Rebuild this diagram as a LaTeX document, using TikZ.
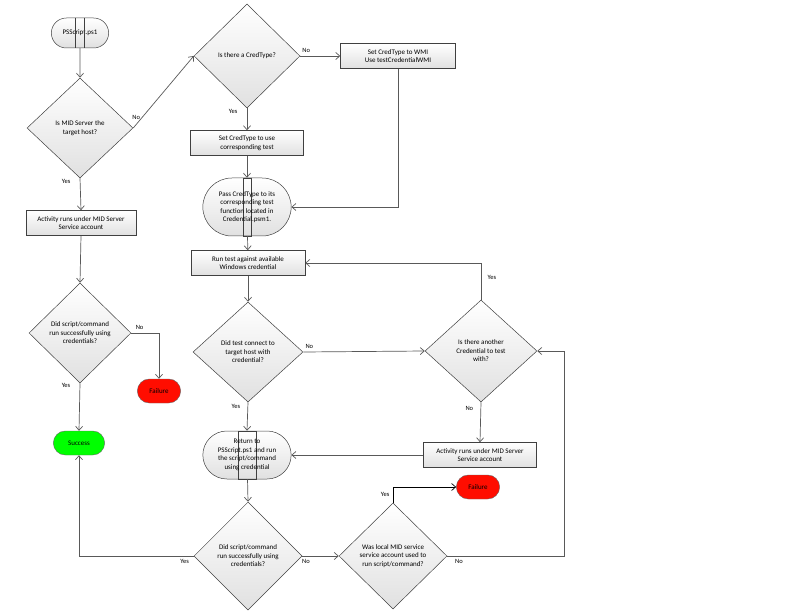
\documentclass[tikz,border=0pt]{standalone}
\usepackage{fontspec}
\setmainfont{Carlito}
\usetikzlibrary{arrows.meta,shapes.geometric,shapes.misc}
\begin{document}
\begin{tikzpicture}[x=1pt,y=-1pt,
  every node/.style={font=\fontsize{7}{8.5}\selectfont,align=center},
  base/.style={draw=black!75,line width=0.5pt,top color=white,bottom color=black!12},
  box/.style={base,rectangle,minimum height=25pt,inner sep=1pt},
  dia/.style={base,diamond,aspect=1,inner sep=0pt},
  term/.style={base,rounded rectangle,minimum height=24pt},
  red/.style={draw=black!60,fill=red!90!orange,rounded rectangle,minimum width=50pt,minimum height=24pt},
  green/.style={draw=black!60,fill=green,rounded rectangle,minimum width=58pt,minimum height=24pt},
  arr/.style={draw=black!65,line width=0.7pt,-{Straight Barb[length=4pt,width=7pt]}},
  lab/.style={font=\fontsize{6.5}{7}\selectfont}]
\useasboundingbox (0,0) rectangle (792,612);
\newcommand{\dia}[5]{\node[dia,minimum width=#3pt,minimum height=#4pt] at #1 (#2) {}; \node at #1 {#5};}
% nodes
\node[term,minimum width=64pt,minimum height=30pt] (ps) at (80,33) {PSScript.ps1};
\draw[black!75] ([xshift=9pt]ps.north west) -- ([xshift=9pt]ps.south west) ([xshift=-9pt]ps.north east) -- ([xshift=-9pt]ps.south east);
\node[dia,minimum width=106pt,minimum height=100pt] (d1) at (80,128) {};
\node at (80,128) {Is MID Server the\\target host?};
\node[box,minimum width=110pt] (a1) at (81,223) {Activity runs under MID Server\\Service account};
\node[dia,minimum width=102pt,minimum height=100pt] (d3) at (80,333) {};
\node at (80,333) {Did script/command\\run successfully using\\credentials?};
\node[red] (f1) at (159,391) {Failure};
\node[green] (s) at (79,443) {Success};
\node[dia,minimum width=106pt,minimum height=104pt] (d2) at (247,56) {};
\node at (247,56) {Is there a CredType?};
\node[box,minimum width=115pt] (wmi) at (398,56) {Set CredType to WMI\\Use testCredentialWMI};
\node[box,minimum width=113pt] (sc) at (247,143) {Set CredType to use\\corresponding test};
\node[term,minimum width=95pt,minimum height=58pt] (pass) at (247,207) {};
\draw[black!75] ([xshift=11pt]pass.north west) rectangle ([xshift=-11pt]pass.south east);
\node at (247,207) {Pass CredType to its\\corresponding test\\function located in\\Credential.psm1.};
\node[box,minimum width=114pt] (run) at (248,263) {Run test against available\\Windows credential};
\node[dia,minimum width=110pt,minimum height=100pt] (dt) at (248,352) {};
\node at (248,352) {Did test connect to\\target host with\\credential?};
\node[dia,minimum width=112pt,minimum height=102pt] (da) at (481,351) {};
\node at (481,351) {Is there another\\Credential to test\\with?};
\node[box,minimum width=113pt] (a2) at (480,455) {Activity runs under MID Server\\Service account};
\node[term,minimum width=95pt,minimum height=48pt] (ret) at (247,455) {};
\draw[black!75] ([xshift=11pt]ret.north west) rectangle ([xshift=-11pt]ret.south east);
\node at (247,455) {Return to\\PSScript.ps1 and run\\the script/command\\using credential};
\node[dia,minimum width=108pt,minimum height=108pt] (db) at (248,556) {};
\node at (248,556) {Did script/command\\run successfully using\\credentials?};
\node[dia,minimum width=108pt,minimum height=106pt] (dw) at (393,556) {};
\node at (393,556) {Was local MID service\\service account used to\\run script/command?};
\node[red] (f2) at (478,487) {Failure};
% connectors
\draw[arr] (ps) -- (d1.north);
\draw[arr] (d1.east) -- node[lab,pos=0.05,above=1pt]{No} (d2.west);
\draw[arr] (d1.south) -- node[lab,pos=0.1,left=6pt]{Yes} (a1.north);
\draw[arr] (a1.south) -- (d3.north);
\draw[arr] (d3.east) -- node[lab,pos=0.3,above]{No} (f1.north |- d3.east) -- (f1.north);
\draw[arr] (d3.south) -- node[lab,pos=0.05,left=6pt]{Yes} (s.north);
\draw[arr] (d2.east) -- node[lab,pos=0.15,above]{No} (wmi.west);
\draw[arr] (d2.south) -- node[lab,pos=0.15,left=6pt]{Yes} (sc.north);
\draw[arr] (wmi.south) |- (pass.east);
\draw[arr] (sc) -- (pass);
\draw[arr] (pass) -- (run);
\draw[arr] (run) -- (dt.north);
\draw[arr] (dt.east) -- node[lab,pos=0.05,above]{No} (da.west);
\draw[arr] (dt.south) -- node[lab,pos=0.15,left=4pt]{Yes} (ret.north);
\draw[arr] (da.north) -- node[lab,pos=0.6,right=3pt]{Yes} (da.north |- run.east) -- (run.east);
\draw[arr] (da.south) -- node[lab,pos=0.15,left=4pt]{No} (a2.north);
\draw[arr] (a2.west) -- (ret.east);
\draw[arr] (ret) -- (db.north);
\draw[arr] (db.west) -- node[lab,pos=0.08,below]{Yes} (s.south |- db.west) -- (s.south);
\draw[arr] (db.east) -- node[lab,pos=0.1,below]{No} (dw.west);
\draw[arr,draw=black] (dw.north) -- node[lab,pos=0.5,left]{Yes} (dw.north |- f2.west) -- (f2.west);
\coordinate (rt) at (564,556);
\draw[arr] (dw.east) -- node[lab,pos=0.1,below]{No} (rt) |- (da.east);
\end{tikzpicture}
\end{document}
